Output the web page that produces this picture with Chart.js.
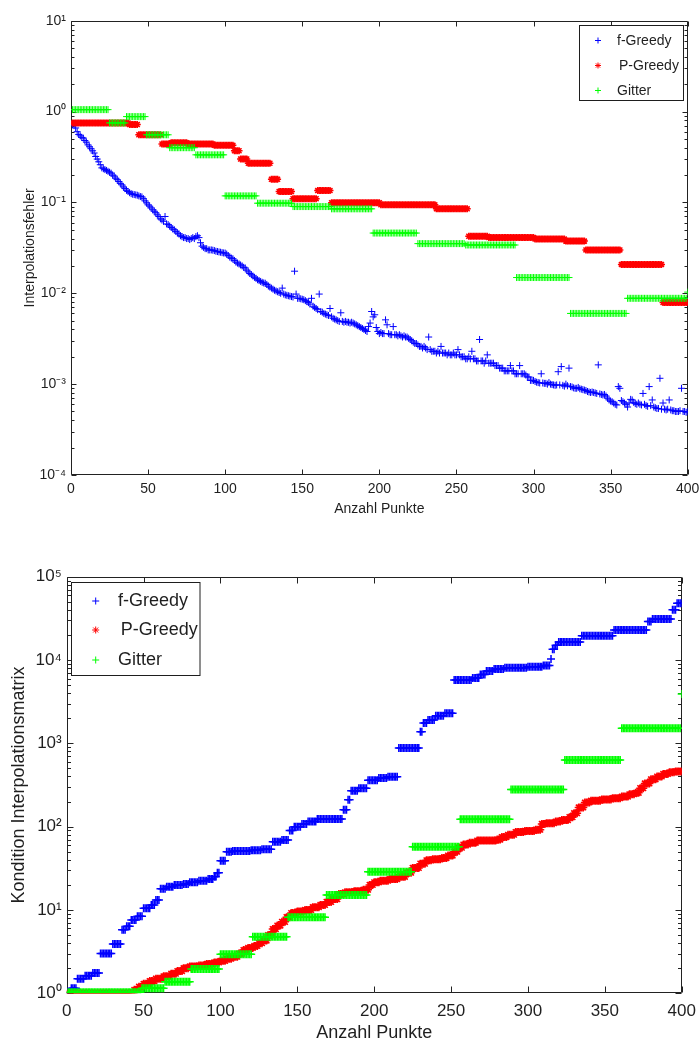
<!DOCTYPE html>
<html>
<head>
<meta charset="utf-8">
<script src="https://cdn.jsdelivr.net/npm/chart.js@4.4.1/dist/chart.umd.min.js"></script>
<style>
html,body{margin:0;padding:0;background:#fff;width:699px;height:1042px;overflow:hidden;}
canvas{position:absolute;left:0;}
#c1{top:0;}
#c2{top:520px;}
</style>
</head>
<body>
<canvas id="c1" width="699" height="520"></canvas>
<canvas id="c2" width="699" height="522"></canvas>
<script>
// ---------------- DATA ----------------
const pointCount = 400;
const xTickValues = [0, 50, 100, 150, 200, 250, 300, 350, 400];
const errExponents = [-4, -3, -2, -1, 0, 1];
const condExponents = [0, 1, 2, 3, 4, 5];
const seriesLabels = ['f-Greedy', 'P-Greedy', 'Gitter'];

// Top chart: Interpolationsfehler, f-Greedy (one value per N = 1..400)
const fGreedyErr = [
  0.72,0.70,0.66,0.60,0.56,0.54,0.52,0.51,0.48,0.46,0.43,0.41,0.39,0.37,0.35,0.32,0.30,0.28,0.26,0.24,
  0.235,0.23,0.225,0.22,0.215,0.21,0.20,0.195,0.185,0.178,0.17,0.162,0.156,0.148,0.142,0.136,0.132,0.128,0.125,0.123,
  0.122,0.121,0.120,0.118,0.116,0.115,0.110,0.104,0.099,0.094,0.091,0.087,0.083,0.080,0.077,0.073,0.070,0.066,0.064,0.062,
  0.070,0.058,0.057,0.055,0.053,0.051,0.050,0.048,0.046,0.045,0.043,0.042,0.041,0.041,0.040,0.040,0.039,0.040,0.041,0.040,
  0.042,0.043,0.041,0.036,0.033,0.032,0.031,0.031,0.030,0.030,0.030,0.0298,0.0295,0.029,0.0288,0.0285,0.0283,0.028,0.0278,0.0277,
  0.027,0.026,0.025,0.0244,0.024,0.023,0.022,0.0215,0.021,0.0205,0.020,0.0193,0.019,0.018,0.0172,0.0165,0.016,0.0155,0.015,0.0146,
  0.0141,0.0138,0.0135,0.0132,0.013,0.0129,0.0125,0.012,0.0117,0.0114,0.0111,0.0108,0.0106,0.0104,0.0102,0.010,0.0114,0.0098,0.0096,0.0095,
  0.0094,0.0093,0.0092,0.0091,0.0175,0.0098,0.0088,0.0088,0.0087,0.0086,0.0085,0.0083,0.0081,0.0079,0.0076,0.0088,0.0072,0.0070,0.0068,0.0066,
  0.0098,0.0063,0.0062,0.0060,0.0059,0.0058,0.0057,0.0068,0.0055,0.0053,0.0052,0.0051,0.0050,0.0049,0.0061,0.0049,0.0048,0.0049,0.0048,0.0048,
  0.0047,0.0048,0.0047,0.0046,0.0045,0.0044,0.0043,0.0042,0.0041,0.0040,0.0039,0.0038,0.0043,0.0047,0.0063,0.0055,0.0058,0.0042,0.0038,0.0036,
  0.0037,0.0036,0.0036,0.0051,0.0045,0.0036,0.0035,0.0035,0.0043,0.0035,0.0035,0.0034,0.0035,0.0034,0.0033,0.0034,0.0033,0.0033,0.0032,0.0031,
  0.0030,0.0029,0.0028,0.0028,0.0027,0.0026,0.0026,0.0025,0.0026,0.0025,0.0024,0.0033,0.0024,0.0023,0.0023,0.0023,0.0022,0.0023,0.0022,0.0026,
  0.0022,0.0022,0.0022,0.0021,0.0022,0.0021,0.0021,0.0022,0.0021,0.0021,0.0024,0.0021,0.0020,0.0020,0.0020,0.0019,0.0019,0.0020,0.0019,0.0023,
  0.0019,0.0019,0.0018,0.0018,0.0031,0.0018,0.0018,0.0017,0.0018,0.0021,0.0017,0.0017,0.0017,0.0017,0.0016,0.0016,0.0016,0.0015,0.0015,0.0015,
  0.0014,0.0014,0.0014,0.0014,0.0016,0.0014,0.0014,0.0013,0.0013,0.0013,0.0016,0.0013,0.0013,0.0013,0.00126,0.0012,0.0012,0.0011,0.0011,0.0011,
  0.00107,0.00105,0.00104,0.00103,0.0013,0.00103,0.00102,0.00102,0.0010,0.00104,0.0010,0.00099,0.00098,0.00097,0.00098,0.00137,0.00098,0.00156,0.00097,0.00095,
  0.0010,0.00096,0.0015,0.00094,0.00093,0.00091,0.0009,0.0009,0.00092,0.00089,0.00088,0.00087,0.00086,0.00085,0.00083,0.00082,0.00081,0.00082,0.00081,0.0008,
  0.00079,0.00163,0.00078,0.00077,0.00076,0.00077,0.00074,0.0007,0.00067,0.00065,0.00064,0.00062,0.0006,0.00059,0.00094,0.0009,0.00066,0.00064,0.00062,0.0006,
  0.00056,0.00062,0.00068,0.00067,0.00063,0.00061,0.0006,0.00062,0.0006,0.00059,0.00079,0.0006,0.00058,0.00057,0.00094,0.00058,0.00067,0.00056,0.00055,0.00054,
  0.00054,0.00116,0.00053,0.00062,0.00053,0.00052,0.00053,0.00067,0.00052,0.00051,0.00051,0.0005,0.0005,0.0005,0.00051,0.0009,0.0005,0.0005,0.00049,0.0005
];

// Top chart, plateau series: value holds from the given N up to the next start
const pGreedyErrStart = [1,38,44,59,65,76,93,106,110,115,130,135,144,160,169,201,237,258,271,301,321,334,357,384];
const pGreedyErrValue = [0.75,0.72,0.555,0.44,0.455,0.44,0.425,0.37,0.30,0.27,0.18,0.132,0.11,0.135,0.099,0.094,0.085,0.0425,0.041,0.0395,0.0375,0.030,0.0208,0.0079];

const gitterErrStart = [1,25,36,49,64,81,100,121,144,169,196,225,256,289,324,361,400];
const gitterErrValue = [1.05,0.75,0.88,0.555,0.40,0.334,0.118,0.098,0.090,0.085,0.046,0.0352,0.034,0.0149,0.006,0.0088,0.0103];

// Bottom chart: Kondition Interpolationsmatrix
const fGreedyCondStart = [1,3,7,12,17,22,30,36,39,42,46,50,55,58,61,65,70,76,80,86,92,96,98,100,104,108,120,127,134,140,145,148,153,157,163,180,183,185,190,196,203,209,216,230,232,235,240,246,252,264,269,273,278,285,300,310,315,316,318,320,335,356,378,381,394,397];
const fGreedyCondValue = [1.0,1.15,1.5,1.62,1.75,3.0,3.9,5.8,6.4,7.6,8.4,10.5,11.5,13.2,18.0,19.0,20,20.5,21.5,22.5,23.5,25,28,39,50,51,52,53.5,66,69,90,100,108,115,124,160,210,270,290,360,385,398,880,1380,1750,1900,2150,2300,5750,6100,6700,7400,7800,8100,8300,8600,10300,13500,15000,16500,19600,23000,29000,31000,40000,48000];

const pGreedyCondStart = [1,44,47,50,54,58,63,68,72,76,80,86,91,96,100,104,108,112,115,118,122,125,128,131,134,137,140,143,146,150,155,160,165,169,173,177,181,187,193,197,200,204,210,216,221,225,230,234,238,244,248,252,255,258,262,267,280,283,287,292,298,305,309,312,318,322,327,330,333,337,341,348,355,361,366,370,373,376,380,384,388,392,396];
const pGreedyCondValue = [1.0,1.1,1.2,1.3,1.4,1.5,1.6,1.72,1.85,2.0,2.1,2.15,2.25,2.35,2.45,2.6,2.75,3.0,3.3,3.5,3.7,4.0,4.3,5.0,5.9,6.5,7.2,8.2,9.2,9.6,10.0,10.8,11.5,12.5,13.5,15.5,16.3,16.8,17.5,20,21.5,22.5,23.5,25,28,32,36,39.5,40.5,42,45,50,56,61,64,68,70,75,80,86,89,92,108,110,115,120,130,145,170,195,205,212,220,230,245,255,290,330,370,400,430,450,460];

const gitterCondStart = [1,49,64,81,100,121,144,169,196,225,256,289,324,361,400];
const gitterCondValue = [1.03,1.15,1.38,1.96,2.94,4.78,8.2,15.1,28.8,57.5,123,280,630,1515,3900];

// ---------------- HELPERS ----------------
const FONT = '"Liberation Sans", Arial, Helvetica, sans-serif';
const TEXT = '#1f1f1f';
const BLUE = '#0000ff', RED = '#ff0000', GREEN = '#00ff00';

function pointsFromList(values) {
  return values.map((v, i) => ({x: i + 1, y: v}));
}
function pointsFromRuns(starts, values, n) {
  const out = [];
  let k = 0;
  for (let i = 1; i <= n; i++) {
    while (k + 1 < starts.length && i >= starts[k + 1]) k++;
    out.push({x: i, y: values[k]});
  }
  return out;
}
const SUP = {'-':'\u207B','0':'\u2070','1':'\u00B9','2':'\u00B2','3':'\u00B3','4':'\u2074','5':'\u2075','6':'\u2076','7':'\u2077','8':'\u2078','9':'\u2079'};
function powLabel(v) {
  const e = Math.round(Math.log10(v));
  return '10' + String(e).split('').map(c => SUP[c]).join('');
}

const framePlugin = {
  id: 'frame',
  beforeDatasetsDraw(chart, args, o) {
    const {ctx, chartArea: a} = chart;
    const xs = chart.scales.x, ys = chart.scales.y;
    const L = Math.round(a.left) + 0.5, R = Math.round(a.right) - 0.5;
    const T = Math.round(a.top) + 0.5, B = Math.round(a.bottom) - 0.5;
    ctx.save();
    ctx.strokeStyle = o.color;
    ctx.lineWidth = 1;
    ctx.beginPath();
    ctx.rect(L, T, R - L, B - T);
    xs.ticks.forEach(t => {
      const p = Math.round(xs.getPixelForValue(t.value)) + 0.5;
      ctx.moveTo(p, B); ctx.lineTo(p, B - o.major);
      ctx.moveTo(p, T); ctx.lineTo(p, T + o.major);
    });
    ys.ticks.forEach(t => {
      const p = Math.round(ys.getPixelForValue(t.value)) + 0.5;
      ctx.moveTo(L, p); ctx.lineTo(L + o.major, p);
      ctx.moveTo(R, p); ctx.lineTo(R - o.major, p);
      if (t.value < ys.max * 0.999) {
        for (let k = 2; k <= 9; k++) {
          const q = Math.round(ys.getPixelForValue(k * t.value)) + 0.5;
          ctx.moveTo(L, q); ctx.lineTo(L + o.minor, q);
          ctx.moveTo(R, q); ctx.lineTo(R - o.minor, q);
        }
      }
    });
    ctx.stroke();
    ctx.restore();
  }
};

function drawMarker(ctx, style, x, y, r, color, lw) {
  ctx.save();
  ctx.strokeStyle = color;
  ctx.lineWidth = lw;
  ctx.beginPath();
  ctx.moveTo(x - r, y); ctx.lineTo(x + r, y);
  ctx.moveTo(x, y - r); ctx.lineTo(x, y + r);
  if (style === 'star') {
    const d = r * Math.SQRT1_2;
    ctx.moveTo(x - d, y - d); ctx.lineTo(x + d, y + d);
    ctx.moveTo(x - d, y + d); ctx.lineTo(x + d, y - d);
  }
  ctx.stroke();
  ctx.restore();
}

const boxLegendPlugin = {
  id: 'boxLegend',
  afterDraw(chart, args, o) {
    const ctx = chart.ctx;
    ctx.save();
    ctx.fillStyle = '#ffffff';
    ctx.fillRect(o.x, o.y, o.w, o.h);
    ctx.strokeStyle = '#1e1e1e';
    ctx.lineWidth = 1;
    ctx.strokeRect(o.x, o.y, o.w, o.h);
    ctx.font = o.size + 'px ' + FONT;
    ctx.textBaseline = 'middle';
    ctx.textAlign = 'left';
    chart.data.datasets.forEach((ds, i) => {
      drawMarker(ctx, ds.pointStyle, o.markerX, o.rows[i], o.markerR[i], ds.borderColor, o.markerW[i]);
      ctx.fillStyle = TEXT;
      ctx.fillText(ds.label, o.textX[i], o.rows[i] + 0.5);
    });
    ctx.restore();
  }
};

Chart.defaults.font.family = FONT;
Chart.defaults.color = TEXT;

function makeChart(canvasId, cfg) {
  return new Chart(document.getElementById(canvasId), {
    type: 'scatter',
    data: {
      datasets: [
        {label: seriesLabels[0], data: cfg.f, pointStyle: 'cross', pointRadius: cfg.r[0], borderColor: BLUE, backgroundColor: BLUE, borderWidth: cfg.w[0], order: 2},
        {label: seriesLabels[1], data: cfg.p, pointStyle: 'star', pointRadius: cfg.r[1], borderColor: RED, backgroundColor: RED, borderWidth: cfg.w[1], order: 1},
        {label: seriesLabels[2], data: cfg.g, pointStyle: 'cross', pointRadius: cfg.r[2], borderColor: GREEN, backgroundColor: GREEN, borderWidth: cfg.w[2], order: 0}
      ]
    },
    options: {
      responsive: false,
      animation: false,
      events: [],
      layout: {padding: cfg.padding},
      plugins: {
        legend: {display: false},
        tooltip: {enabled: false},
        frame: {color: '#222', major: cfg.major, minor: cfg.minor},
        boxLegend: cfg.legend
      },
      scales: {
        x: {
          type: 'linear', min: 0, max: pointCount,
          afterBuildTicks: s => { s.ticks = xTickValues.map(v => ({value: v})); },
          afterFit: s => { s.height = cfg.xHeight; s.paddingLeft = 0; s.paddingRight = 0; },
          grid: {display: false, drawTicks: false},
          border: {display: false},
          ticks: {font: {size: cfg.tickSize}, padding: cfg.xTickPad, autoSkip: false, maxRotation: 0, color: TEXT},
          title: {display: true, text: 'Anzahl Punkte', color: TEXT, font: {size: cfg.titleSize, lineHeight: 1}, padding: {top: 0, bottom: cfg.xTitlePad}}
        },
        y: {
          type: 'logarithmic', min: cfg.yMin, max: cfg.yMax,
          afterBuildTicks: s => { s.ticks = cfg.exps.map(e => ({value: Math.pow(10, e)})); },
          afterFit: s => { s.width = cfg.yWidth; s.paddingTop = 0; s.paddingBottom = 0; },
          grid: {display: false, drawTicks: false},
          border: {display: false},
          ticks: {font: {size: cfg.tickSize}, padding: cfg.yTickPad, autoSkip: false, color: TEXT, callback: v => powLabel(v)},
          title: {display: true, text: cfg.yTitle, color: TEXT, font: {size: cfg.titleSize, lineHeight: 1}, padding: {top: cfg.yTitlePad, bottom: 0}}
        }
      }
    },
    plugins: [framePlugin, boxLegendPlugin]
  });
}

makeChart('c1', {
  f: pointsFromList(fGreedyErr),
  p: pointsFromRuns(pGreedyErrStart, pGreedyErrValue, pointCount),
  g: pointsFromRuns(gitterErrStart, gitterErrValue, pointCount),
  r: [3.5, 3.5, 3.5], w: [1, 1.5, 1],
  padding: {left: 0, right: 11.3, top: 20.7, bottom: 0},
  xHeight: 45, yWidth: 71,
  tickSize: 14, titleSize: 14,
  xTickPad: 5.6, yTickPad: 5, xTitlePad: 4, yTitlePad: 23,
  yMin: 1e-4, yMax: 10, exps: errExponents,
  yTitle: 'Interpolationsfehler',
  major: 5, minor: 3,
  legend: {x: 579.5, y: 25.5, w: 104, h: 75, size: 14, markerX: 598, markerR: [3, 3, 3], markerW: [1, 1, 1], rows: [40.5, 65.5, 90.5], textX: [617, 619, 617]}
});

makeChart('c2', {
  f: pointsFromRuns(fGreedyCondStart, fGreedyCondValue, pointCount),
  p: pointsFromRuns(pGreedyCondStart, pGreedyCondValue, pointCount),
  g: pointsFromRuns(gitterCondStart, gitterCondValue, pointCount),
  r: [4, 4, 4], w: [1.5, 1.5, 1.5],
  padding: {left: 0, right: 17.3, top: 56.7, bottom: 0},
  xHeight: 48.7, yWidth: 66.7,
  tickSize: 17, titleSize: 18,
  xTickPad: 8, yTickPad: 5, xTitlePad: 0, yTitlePad: 10.5,
  yMin: 1, yMax: 1e5, exps: condExponents,
  yTitle: 'Kondition Interpolationsmatrix',
  major: 6, minor: 3.5,
  legend: {x: 71.5, y: 62.5, w: 128.5, h: 93, size: 18, markerX: 95.7, markerR: [3.5, 3.5, 3.5], markerW: [1, 1, 1], rows: [81, 110, 140], textX: [118, 120.7, 118]}
});
</script>
</body>
</html>
